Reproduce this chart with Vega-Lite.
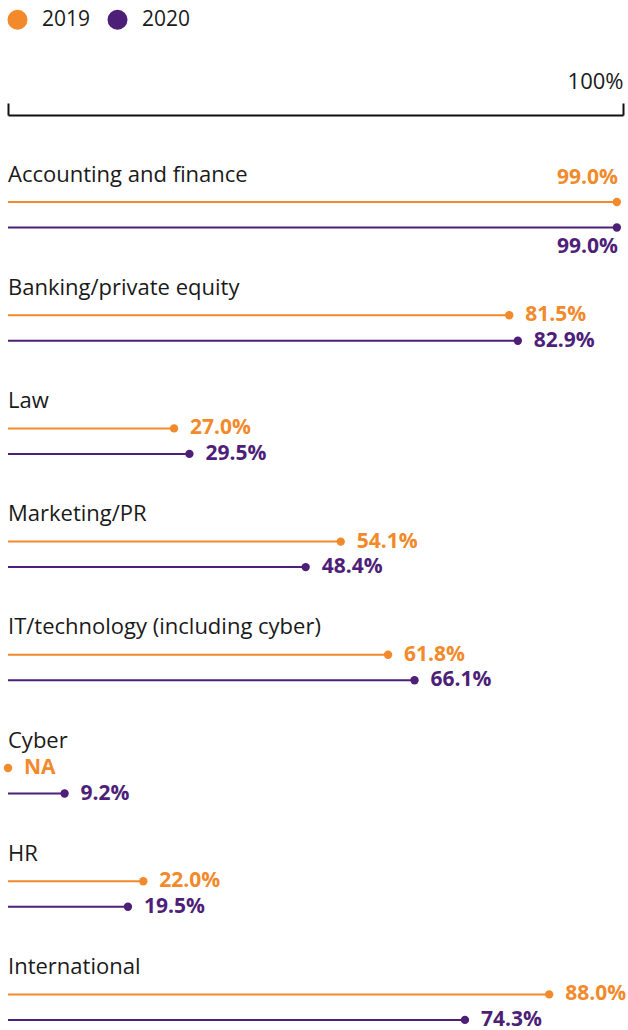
{
  "$schema": "https://vega.github.io/schema/vega-lite/v6.json",
  "autosize": "none",
  "width": 615,
  "height": 915,
  "padding": {"left": 8, "top": 115, "right": 5, "bottom": 0},
  "background": "white",
  "config": {
    "view": {"stroke": null},
    "font": "Open Sans",
    "axisX": {
      "grid": false, "domainColor": "#111111", "domainWidth": 2,
      "tickSize": 12, "tickColor": "#111111", "tickWidth": 2,
      "labelFontSize": 22, "labelPadding": 10, "labelAlign": "right",
      "labelColor": "#1a1a1a", "labelFlush": false, "labelFont": "Open Sans"
    },
    "legend": {
      "orient": "none", "legendX": -1, "legendY": -106, "direction": "horizontal",
      "symbolType": "circle", "symbolSize": 400, "symbolStrokeWidth": 0,
      "labelFontSize": 21, "labelColor": "#1a1a1a", "labelOffset": 14,
      "columnPadding": 16, "padding": 0, "labelFont": "Open Sans"
    }
  },
  "data": {
    "values": [
      {"category": "Accounting and finance", "year": "2019", "value": 99.0, "label": "99.0%"},
      {"category": "Accounting and finance", "year": "2020", "value": 99.0, "label": "99.0%"},
      {"category": "Banking/private equity", "year": "2019", "value": 81.5, "label": "81.5%"},
      {"category": "Banking/private equity", "year": "2020", "value": 82.9, "label": "82.9%"},
      {"category": "Law", "year": "2019", "value": 27.0, "label": "27.0%"},
      {"category": "Law", "year": "2020", "value": 29.5, "label": "29.5%"},
      {"category": "Marketing/PR", "year": "2019", "value": 54.1, "label": "54.1%"},
      {"category": "Marketing/PR", "year": "2020", "value": 48.4, "label": "48.4%"},
      {"category": "IT/technology (including cyber)", "year": "2019", "value": 61.8, "label": "61.8%"},
      {"category": "IT/technology (including cyber)", "year": "2020", "value": 66.1, "label": "66.1%"},
      {"category": "Cyber", "year": "2019", "value": 0, "label": "NA"},
      {"category": "Cyber", "year": "2020", "value": 9.2, "label": "9.2%"},
      {"category": "HR", "year": "2019", "value": 22.0, "label": "22.0%"},
      {"category": "HR", "year": "2020", "value": 19.5, "label": "19.5%"},
      {"category": "International", "year": "2019", "value": 88.0, "label": "88.0%"},
      {"category": "International", "year": "2020", "value": 74.3, "label": "74.3%"}
    ]
  },
  "encoding": {
    "y": {
      "field": "category", "type": "nominal", "sort": null,
      "scale": {"type": "band", "range": [44, 949.6], "paddingInner": 0, "paddingOuter": 0},
      "axis": null
    },
    "x": {
      "field": "value", "type": "quantitative",
      "scale": {"domain": [0, 100]},
      "axis": {"orient": "top", "values": [0, 100], "title": null, "labelExpr": "datum.value == 100 ? '100%' : ''"}
    },
    "yOffset": {"field": "year", "type": "nominal", "scale": {"type": "point", "domain": ["2019", "2020"], "range": [43, 68.5], "padding": 0}},
    "color": {
      "field": "year", "type": "nominal",
      "scale": {"domain": ["2019", "2020"], "range": ["#F28A2B", "#4E1F78"]},
      "legend": {"title": null, "symbolSize": 400, "symbolType": "circle"}
    }
  },
  "layer": [
    {
      "transform": [{"filter": "datum.year == '2019'"}],
      "mark": {"type": "text", "align": "left", "baseline": "middle", "dy": -41, "fontSize": 22, "color": "#1a1a1a"},
      "encoding": {
        "x": {"datum": 0, "type": "quantitative", "scale": {"domain": [0, 100]}, "axis": {"orient": "top", "values": [0, 100], "title": null, "labelExpr": "datum.value == 100 ? '100%' : ''"}},
        "yOffset": null,
        "color": null,
        "text": {"field": "category"}
      }
    },
    {
      "mark": {"type": "rule", "strokeWidth": 2},
      "encoding": {
        "x2": {"datum": 0}
      }
    },
    {
      "mark": {"type": "point", "filled": true, "opacity": 1, "size": 70}
    },
    {
      "transform": [{"filter": "datum.value < 95"}],
      "mark": {"type": "text", "align": "left", "baseline": "middle", "dx": 16, "fontSize": 21, "fontWeight": "bold"},
      "encoding": {"text": {"field": "label"}}
    },
    {
      "transform": [{"filter": "datum.value >= 95 && datum.year == '2019'"}],
      "mark": {"type": "text", "align": "right", "baseline": "middle", "dx": 1, "dy": -24, "fontSize": 21, "fontWeight": "bold"},
      "encoding": {"text": {"field": "label"}}
    },
    {
      "transform": [{"filter": "datum.value >= 95 && datum.year == '2020'"}],
      "mark": {"type": "text", "align": "right", "baseline": "middle", "dx": 1, "dy": 19, "fontSize": 21, "fontWeight": "bold"},
      "encoding": {"text": {"field": "label"}}
    }
  ]
}
